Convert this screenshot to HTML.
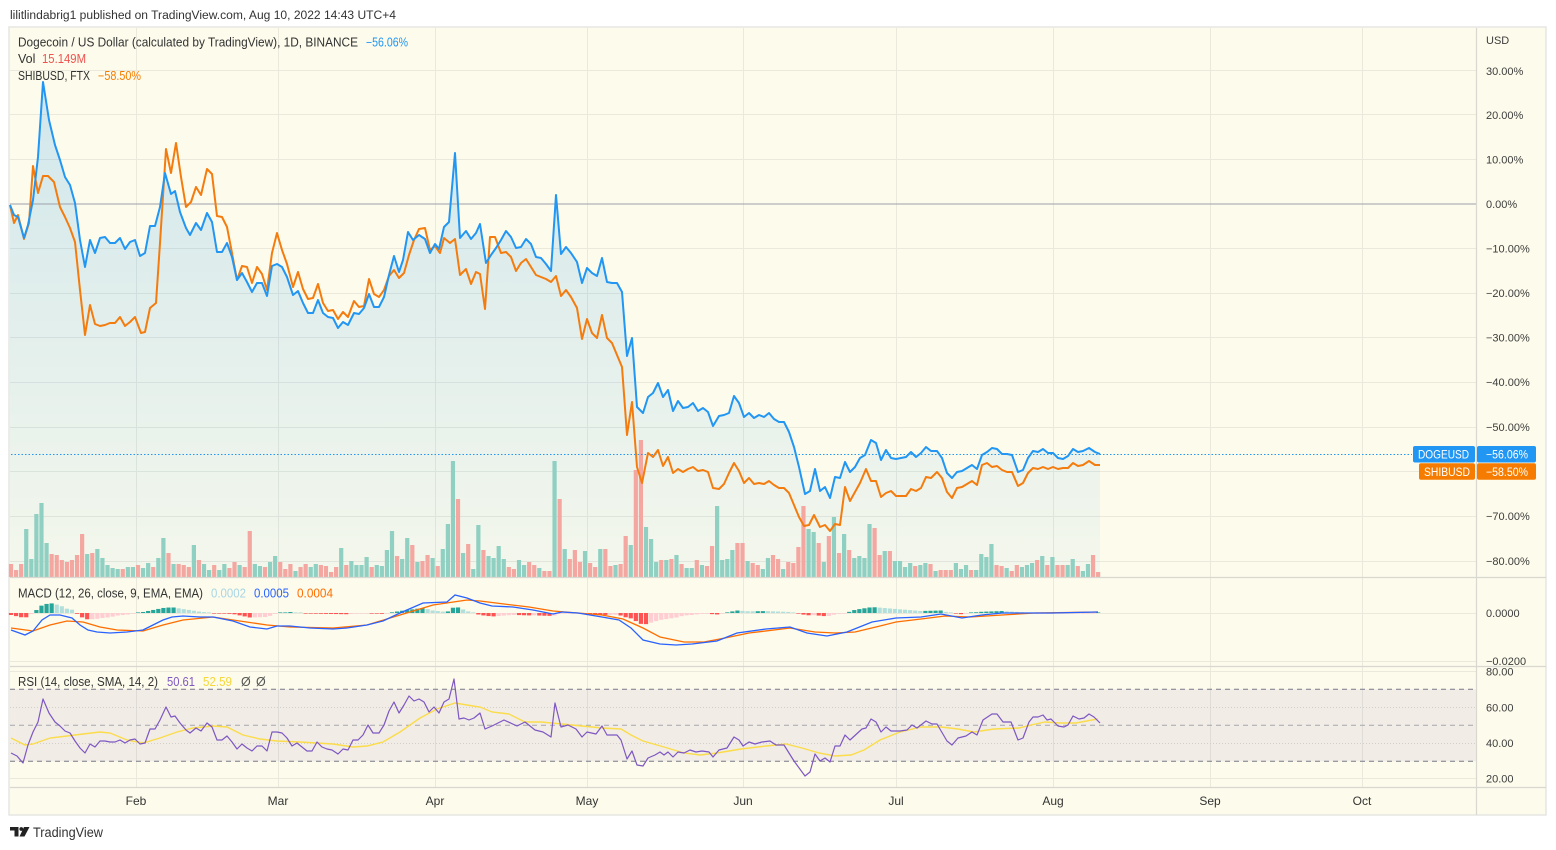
<!DOCTYPE html>
<html><head><meta charset="utf-8">
<style>
html,body{margin:0;padding:0;background:#fff;}
svg{display:block;font-family:"Liberation Sans",sans-serif;}
</style></head>
<body>
<svg id="c" xmlns="http://www.w3.org/2000/svg" width="1556" height="850" viewBox="0 0 1556 850">
<defs>
<linearGradient id="ag" x1="0" y1="80" x2="0" y2="577" gradientUnits="userSpaceOnUse">
<stop offset="0" stop-color="#2196f3" stop-opacity="0.20"/>
<stop offset="1" stop-color="#2196f3" stop-opacity="0.04"/>
</linearGradient>
</defs>
<rect width="1556" height="850" fill="#ffffff"/>
<text x="10" y="19" font-size="11.5" fill="#333" textLength="386" lengthAdjust="spacingAndGlyphs">lilitlindabrig1 published on TradingView.com, Aug 10, 2022 14:43 UTC+4</text>

<rect x="9" y="27" width="1537" height="788" fill="#fdfbeb" stroke="#e6e6e3" stroke-width="1.5"/>

<g stroke="#eae9db" stroke-width="1">
<line x1="10" x2="1476" y1="70.5" y2="70.5"/>
<line x1="10" x2="1476" y1="114.5" y2="114.5"/>
<line x1="10" x2="1476" y1="159.5" y2="159.5"/>
<line x1="10" x2="1476" y1="248.5" y2="248.5"/>
<line x1="10" x2="1476" y1="293.5" y2="293.5"/>
<line x1="10" x2="1476" y1="337.5" y2="337.5"/>
<line x1="10" x2="1476" y1="382.5" y2="382.5"/>
<line x1="10" x2="1476" y1="427.5" y2="427.5"/>
<line x1="10" x2="1476" y1="471.5" y2="471.5"/>
<line x1="10" x2="1476" y1="516.5" y2="516.5"/>
<line x1="10" x2="1476" y1="561.5" y2="561.5"/>
<line x1="10" x2="1476" y1="613.5" y2="613.5"/>
<line x1="10" x2="1476" y1="661.5" y2="661.5"/>
<line x1="10" x2="1476" y1="671.5" y2="671.5"/>
<line x1="10" x2="1476" y1="778.5" y2="778.5"/>
<line x1="136.5" x2="136.5" y1="28" y2="787"/>
<line x1="278.5" x2="278.5" y1="28" y2="787"/>
<line x1="435.5" x2="435.5" y1="28" y2="787"/>
<line x1="587.5" x2="587.5" y1="28" y2="787"/>
<line x1="743.5" x2="743.5" y1="28" y2="787"/>
<line x1="896.5" x2="896.5" y1="28" y2="787"/>
<line x1="1053.5" x2="1053.5" y1="28" y2="787"/>
<line x1="1210.5" x2="1210.5" y1="28" y2="787"/>
<line x1="1362.5" x2="1362.5" y1="28" y2="787"/>
</g>

<rect x="10" y="689.3" width="1466" height="72" fill="#7e57c2" fill-opacity="0.09"/>
<g stroke="#d2cfca" stroke-width="1" stroke-dasharray="1 2">
<line x1="10" x2="1476" y1="707.5" y2="707.5"/>
<line x1="10" x2="1476" y1="743.5" y2="743.5"/>
</g>

<polygon id="areafill" fill="url(#ag)" points=""/>

<g id="vol"></g>

<line x1="10" x2="1476" y1="204" y2="204" stroke="#9da1ab" stroke-width="1"/>

<line x1="11" x2="1412" y1="454.5" y2="454.5" stroke="#2196f3" stroke-width="1" stroke-dasharray="1.5 2"/>

<polyline id="shib" fill="none" stroke="#f47c0e" stroke-width="2" stroke-linejoin="round" points="10,205 14,223 18,215 24,239 29,223 33,166 38,193 43,176 48,176 54,182 60,207 65,217 70,228 75,242 80,290 85,335 90,305 95,324 100,326 105,325 110,323 115,323 120,317 125,326 130,322 135,317 141,333 145,332 150,308 156,303 160,243 166,149 171,173 176,143 181,177 186,207 191,202 196,187 201,195 207,169 212,174 217,216 222,217 227,227 232,253 237,280 242,266 247,267 252,283 257,267 262,274 267,290 272,253 277,233 282,250 287,264 293,287 298,272 303,289 308,299 313,298 318,284 323,303 328,311 333,310 338,319 343,312 348,317 354,301 359,307 364,306 369,279 374,294 379,297 384,290 389,276 394,270 399,278 404,273 409,255 414,240 419,229 425,228 430,250 435,246 440,253 444,238 450,243 455,239 460,275 466,269 471,284 476,272 480,274 485,309 490,237 495,237 501,253 506,252 511,257 516,271 521,263 526,259 531,267 536,275 541,277 546,279 551,282 556,276 561,296 566,290 571,297 577,308 582,339 587,319 592,333 597,338 602,315 607,338 612,343 617,355 622,367 627,435 632,402 637,467 642,483 648,453 653,457 658,450 663,466 668,457 673,473 678,469 683,472 688,469 693,467 698,471 703,470 708,472 713,488 719,489 724,484 729,473 734,463 739,471 744,483 749,478 754,484 759,483 764,484 769,481 774,485 779,488 784,488 789,493 794,505 799,517 804,526 809,525 814,515 820,527 825,525 830,531 835,524 840,525 845,487 850,501 855,492 860,483 866,469 871,481 876,481 881,497 886,493 891,491 896,496 901,496 906,496 911,489 916,491 921,488 926,477 931,478 937,472 942,478 947,492 952,498 957,488 962,487 967,484 972,481 977,485 982,465 987,463 992,467 997,466 1002,470 1007,472 1012,472 1018,486 1023,483 1028,473 1033,468 1038,469 1043,467 1048,469 1053,467 1058,469 1063,468 1068,468 1073,463 1078,466 1083,465 1089,461 1095,465 1100,465"/>

<polyline id="doge" fill="none" stroke="#2196f3" stroke-width="2" stroke-linejoin="round" points="10,205 14,215 18,217 24,238 28,225 33,200 38,157 43,82 49,120 55,145 60,160 65,177 70,185 75,203 80,240 85,267 90,240 95,253 100,238 105,237 110,243 115,243 120,238 125,249 130,242 135,240 140,256 145,253 150,226 155,226 160,207 165,173 171,194 175,191 180,212 186,228 190,235 196,223 201,230 207,213 212,222 217,252 222,252 227,243 232,257 237,280 242,273 247,282 252,292 257,283 262,283 267,296 272,266 277,264 282,267 287,277 293,295 298,291 303,303 308,313 313,313 318,300 323,313 328,317 333,318 338,328 343,322 348,325 354,313 359,314 364,308 369,294 374,307 379,307 384,297 389,275 394,256 399,272 403,260 408,232 413,240 419,235 425,239 430,253 435,244 439,249 444,227 449,222 455,153 460,238 466,231 471,239 476,233 480,224 486,263 491,255 496,248 501,240 506,231 511,237 516,248 521,247 526,239 531,244 536,257 541,258 546,264 551,271 556,195 561,254 566,247 571,253 577,262 582,283 587,268 592,273 597,276 602,258 607,282 612,283 617,283 622,292 627,356 632,338 637,407 643,413 648,397 653,393 658,383 663,397 668,390 673,411 678,401 683,408 688,407 693,403 698,411 703,408 708,412 713,426 719,416 724,415 729,413 734,396 739,403 744,417 749,413 754,418 759,415 764,417 769,413 774,419 779,422 784,422 789,432 794,447 799,467 805,494 810,491 815,469 820,491 825,487 830,498 835,477 840,478 845,462 850,472 855,467 860,458 865,455 871,440 876,443 881,460 886,450 891,458 896,459 901,458 906,457 911,452 916,457 921,453 926,447 931,451 937,451 942,458 947,473 952,478 957,472 962,471 967,468 972,465 977,469 982,455 987,452 992,448 997,449 1002,454 1007,454 1012,455 1018,472 1023,470 1028,458 1033,451 1038,452 1043,449 1048,453 1053,453 1058,458 1063,459 1068,456 1073,449 1078,452 1083,451 1089,448 1095,452 1100,454"/>

<g id="hist"></g>
<polyline id="sig" fill="none" stroke="#ff6d00" stroke-width="1.3" points="11,628 33,631 50,625 67,621 83,622 100,627 117,630 143,631 163,625 183,620 213,617 233,620 267,625 290,627 333,628 367,625 400,615 433,605 467,600 480,601 504,604 529,607 553,611 578,613 602,615 623,619 643,628 660,637 684,642 704,642 725,638 749,633 790,628 815,632 835,633 855,632 880,626 896,622 921,619 945,616 970,617 1002,615 1035,613 1098,612"/>
<polyline id="macd" fill="none" stroke="#2962ff" stroke-width="1.3" points="11,630 25,635 33,631 42,620 50,615 60,615 72,618 80,625 88,630 97,632 110,633 127,632 143,630 153,625 163,620 172,617 183,616 200,617 213,617 233,621 250,627 267,629 277,626 290,626 310,628 333,629 347,628 367,625 383,621 400,613 423,603 447,602 455,595 467,598 480,603 492,606 513,607 533,610 553,614 562,612 578,613 602,617 619,620 631,628 643,640 660,644 676,645 692,644 717,641 737,633 766,629 790,627 807,633 827,636 847,632 872,622 896,618 921,617 941,614 962,618 982,615 1002,613 1023,613 1051,613 1098,612"/>

<g stroke-width="1" stroke-dasharray="5 4">
<line x1="10" x2="1476" y1="689.3" y2="689.3" stroke="#787b86"/>
<line x1="10" x2="1476" y1="725.3" y2="725.3" stroke="#a5a7ad"/>
<line x1="10" x2="1476" y1="761.3" y2="761.3" stroke="#787b86"/>
</g>
<polyline fill="none" stroke="#fbdc4a" stroke-width="1.4" points="11,738 25,745 33,744 50,738 67,736 83,734 100,732 110,733 127,740 143,743 160,738 177,732 193,728 213,726 227,727 243,735 260,739 277,741 300,742 333,744 353,747 367,746 383,742 400,732 420,718 437,709 455,703 473,706 480,707 492,712 509,714 525,722 541,722 562,724 582,726 602,728 621,729 631,735 643,741 664,747 684,753 700,755 717,753 741,749 766,746 786,744 802,748 819,753 835,756 851,755 864,750 880,740 900,732 921,727 941,727 958,729 974,732 994,729 1019,728 1031,725 1045,722 1060,723 1076,723 1092,720 1098,719"/>
<polyline fill="none" stroke="#7e57c2" stroke-width="1.2" stroke-linejoin="round" points="11,753 17,756 23,763 28,745 33,732 38,722 43,699 49,713 55,722 60,726 65,731 70,733 75,741 80,748 85,753 90,744 95,747 100,741 105,741 110,742 115,742 120,740 125,743 130,740 135,739 140,744 145,743 150,729 155,729 160,720 166,707 171,717 175,716 180,723 186,730 190,733 196,728 201,731 207,723 212,727 217,740 222,740 227,736 232,742 237,749 242,744 247,748 252,751 257,746 262,746 267,751 272,732 277,732 282,733 287,738 292,746 297,743 302,747 307,751 312,751 317,742 322,747 327,749 332,750 338,754 343,749 348,750 353,740 358,740 363,735 368,725 373,733 379,733 384,725 389,711 394,702 399,713 404,705 409,696 414,701 419,699 424,702 429,712 434,707 439,713 444,702 449,699 454,679 459,719 464,718 469,720 474,718 480,713 485,729 492,726 504,720 517,726 525,722 535,730 543,732 551,737 555,703 561,727 568,725 576,729 582,737 587,732 596,734 602,726 607,735 617,735 621,740 627,759 632,751 637,765 643,766 648,758 655,755 660,752 664,755 668,752 673,757 678,752 684,753 690,750 696,752 702,751 709,752 713,757 719,750 727,748 734,737 739,740 743,746 749,742 755,744 762,742 770,741 776,745 784,745 794,761 805,776 810,772 815,754 820,761 825,758 830,762 835,746 840,746 845,735 850,740 862,729 866,728 871,719 876,722 881,732 886,727 891,731 900,731 907,730 912,725 917,728 926,721 932,724 937,724 947,741 952,745 958,738 966,736 972,732 977,735 983,720 992,714 997,714 1003,722 1011,722 1018,740 1023,738 1029,722 1033,717 1038,717 1043,715 1047,720 1051,719 1058,726 1064,727 1068,725 1073,716 1079,719 1084,718 1089,714 1094,717 1100,723"/>

<g stroke="#d8d8d0" stroke-width="1.2">
<line x1="10" x2="1546" y1="577.5" y2="577.5"/>
<line x1="10" x2="1546" y1="666.5" y2="666.5"/>
<line x1="10" x2="1546" y1="787.5" y2="787.5"/>
<line x1="1476.5" x2="1476.5" y1="28" y2="815"/>
</g>

<g font-size="11" fill="#3d3d3d">
<text x="1486" y="44">USD</text>
<text x="1486" y="75">30.00%</text>
<text x="1486" y="119">20.00%</text>
<text x="1486" y="163.5">10.00%</text>
<text x="1486" y="208">0.00%</text>
<text x="1486" y="252.5">−10.00%</text>
<text x="1486" y="297">−20.00%</text>
<text x="1486" y="341.5">−30.00%</text>
<text x="1486" y="386">−40.00%</text>
<text x="1486" y="431">−50.00%</text>
<text x="1486" y="520">−70.00%</text>
<text x="1486" y="565">−80.00%</text>
<text x="1486" y="617">0.0000</text>
<text x="1486" y="665">−0.0200</text>
<text x="1486" y="675.5">80.00</text>
<text x="1486" y="711.5">60.00</text>
<text x="1486" y="747">40.00</text>
<text x="1486" y="782.5">20.00</text>
</g>

<rect x="1413" y="446" width="62" height="16.5" rx="2" fill="#2196f3"/>
<rect x="1477" y="446" width="59" height="16.5" rx="2" fill="#2196f3"/>
<rect x="1419" y="463.3" width="56" height="16.5" rx="2" fill="#f57c00"/>
<rect x="1477" y="463.3" width="59" height="16.5" rx="2" fill="#f57c00"/>
<g font-size="11.5" fill="#ffffff">
<text x="1418" y="458.5" textLength="51" lengthAdjust="spacingAndGlyphs">DOGEUSD</text>
<text x="1486" y="458.5" textLength="42" lengthAdjust="spacingAndGlyphs">−56.06%</text>
<text x="1424" y="475.8" textLength="46" lengthAdjust="spacingAndGlyphs">SHIBUSD</text>
<text x="1486" y="475.8" textLength="42" lengthAdjust="spacingAndGlyphs">−58.50%</text>
</g>

<g font-size="12" fill="#333" text-anchor="middle">
<text x="136" y="805">Feb</text>
<text x="278" y="805">Mar</text>
<text x="435" y="805">Apr</text>
<text x="587" y="805">May</text>
<text x="743" y="805">Jun</text>
<text x="896" y="805">Jul</text>
<text x="1053" y="805">Aug</text>
<text x="1210" y="805">Sep</text>
<text x="1362" y="805">Oct</text>
</g>

<g font-size="12.5" fill="#333">
<text x="18" y="46.5" textLength="340" lengthAdjust="spacingAndGlyphs">Dogecoin / US Dollar (calculated by TradingView), 1D, BINANCE</text>
<text x="366" y="46.5" fill="#2196f3" textLength="42" lengthAdjust="spacingAndGlyphs">−56.06%</text>
<text x="18" y="63">Vol</text>
<text x="42" y="63" fill="#ef5350" textLength="44" lengthAdjust="spacingAndGlyphs">15.149M</text>
<text x="18" y="80" textLength="72" lengthAdjust="spacingAndGlyphs">SHIBUSD, FTX</text>
<text x="98" y="80" fill="#f57c00" textLength="43" lengthAdjust="spacingAndGlyphs">−58.50%</text>
<text x="18" y="597.5" textLength="185" lengthAdjust="spacingAndGlyphs">MACD (12, 26, close, 9, EMA, EMA)</text>
<text x="211" y="597.5" fill="#a9d6e5" textLength="35" lengthAdjust="spacingAndGlyphs">0.0002</text>
<text x="254" y="597.5" fill="#2962ff" textLength="35" lengthAdjust="spacingAndGlyphs">0.0005</text>
<text x="297" y="597.5" fill="#ff6d00" textLength="36" lengthAdjust="spacingAndGlyphs">0.0004</text>
<text x="18" y="686" textLength="140" lengthAdjust="spacingAndGlyphs">RSI (14, close, SMA, 14, 2)</text>
<text x="167" y="686" fill="#7e57c2" textLength="28" lengthAdjust="spacingAndGlyphs">50.61</text>
<text x="203" y="686" fill="#f5d73c" textLength="29" lengthAdjust="spacingAndGlyphs">52.59</text>
<text x="241" y="686" fill="#555">Ø</text>
<text x="256" y="686" fill="#555">Ø</text>
</g>

<g fill="#222">
<path d="M10 827 h8.5 v9.5 h-4 v-6 h-4.5 z"/>
<circle cx="21.3" cy="829" r="1.9"/>
<polygon points="24,827 29.5,827 24.5,836.5 19.5,836.5"/>
</g>
<text x="33" y="837" font-size="13.5" fill="#333" textLength="70" lengthAdjust="spacingAndGlyphs">TradingView</text>
</svg>

<script>
(function(){
var NS="http://www.w3.org/2000/svg";
function pts(id){return document.getElementById(id).getAttribute("points").trim().split(/\s+/).map(function(s){var a=s.split(",");return [parseFloat(a[0]),parseFloat(a[1])];});}
function interp(p,x){if(x<=p[0][0])return p[0][1];for(var k=1;k<p.length;k++){if(x<=p[k][0]){var a=p[k-1],b=p[k];return a[1]+(b[1]-a[1])*(x-a[0])/(b[0]-a[0]);}}return p[p.length-1][1];}
var d=pts("doge");
var s=d.map(function(q){return q[0]+","+q[1];}).join(" ")+" 1100,577 10,577";
document.getElementById("areafill").setAttribute("points",s);
var vol="r564 r570 r564 t529 t559 t514 t503 t543 r554 r555 r560 r562 r560 r555 r534 t554 r553 t549 t558 t565 t568 t569 r569 t567 t567 r565 t568 t563 r567 t558 t538 r553 t564 r564 r565 r567 t545 r560 t564 t570 r565 t570 t564 r568 r562 t565 r567 r531 t564 t566 r567 t562 t556 r562 r569 r564 t571 r567 r564 t567 t564 r565 r566 r572 r567 t548 r565 t561 t565 t565 t557 r567 t565 t566 t550 t531 r556 t559 t538 r545 t562 r561 r555 t558 r566 t549 t524 t461 r499 t553 r544 t569 t525 r550 t556 t558 t546 t559 r567 r569 t560 t565 r562 r565 t568 r571 r571 t461 r499 t549 r559 r550 r562 t551 r563 r567 t549 r549 r566 t565 r564 r536 t545 r470 r440 t527 t539 t562 r560 t560 r559 t555 r564 t568 t568 r560 t565 r566 r546 t506 t560 t559 t550 r543 r543 t561 r563 r565 t569 t558 r555 r559 t569 r562 r563 r547 r506 t529 t532 r543 t562 r536 t517 r553 t534 r550 t558 t556 t558 t524 r528 r555 t551 r551 t561 t561 t567 t563 r566 t565 t563 r564 t571 r570 r570 r570 t563 t569 t565 r570 t570 t554 t557 t544 r565 r566 t568 r571 r565 t567 t565 t563 r560 t556 r565 t557 r565 r565 t565 t559 r566 t571 t564 r555 r572".split(" ");
var gv=document.getElementById("vol");
for(var i=0;i<vol.length;i++){
 var x=11+i*5.08, top=parseFloat(vol[i].slice(1));
 var r=document.createElementNS(NS,"rect");
 r.setAttribute("x",(x-2.1).toFixed(2));r.setAttribute("y",top);
 r.setAttribute("width","4.2");r.setAttribute("height",(577-top).toFixed(1));
 r.setAttribute("fill",vol[i][0]=="t"?"#8fd0c2":"#f4a7a0");
 gv.appendChild(r);
}
var m=pts("macd"), sg=pts("sig"), gh=document.getElementById("hist"), prev=null;
for(var j=0;j<215;j++){
 var xx=11+j*5.08, v=interp(sg,xx)-interp(m,xx), c;
 if(v>=0){c=(prev===null||v>=prev)?"#26a69a":"#b2dfdb";}
 else{c=(prev===null||v<=prev)?"#ff5252":"#ffcdd2";}
 prev=v;
 var h=Math.abs(v); if(h<0.6)h=0.6;
 var rr=document.createElementNS(NS,"rect");
 rr.setAttribute("x",(xx-2.1).toFixed(2));
 rr.setAttribute("y",(v>=0?613-h:613).toFixed(2));
 rr.setAttribute("width","4.2");rr.setAttribute("height",h.toFixed(2));
 rr.setAttribute("fill",c);
 gh.appendChild(rr);
}
})();
</script>
</body></html>
